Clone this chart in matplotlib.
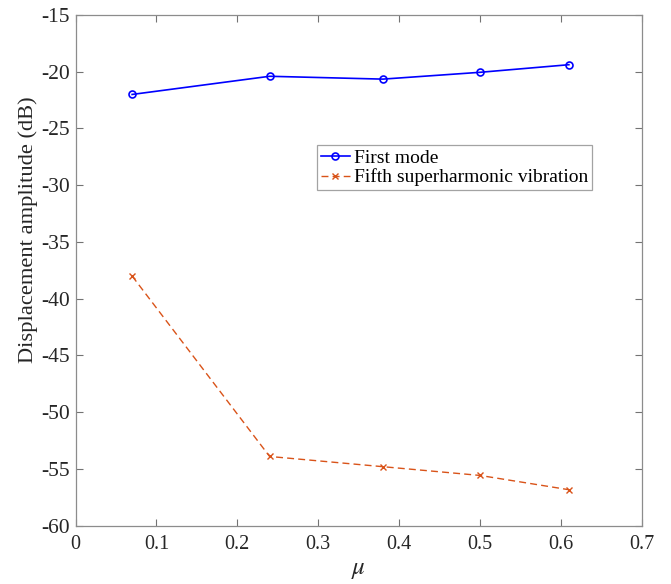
import matplotlib.pyplot as plt

# Data
mu = [0.07, 0.24, 0.38, 0.50, 0.61]
first_mode = [-22.0, -20.4, -20.65, -20.05, -19.38]
fifth_super = [-38.0, -53.9, -54.8, -55.57, -56.83]

plt.rcParams['font.family'] = ['Liberation Serif', 'DejaVu Serif']
plt.rcParams['mathtext.fontset'] = 'stix'

W, H = 671, 584
fig = plt.figure(figsize=(W / 100, H / 100), dpi=100)
ax = fig.add_axes([75.5 / W, 1 - 525.7 / H, 566.2 / W, 510.7 / H])

ax.plot(mu, first_mode, color='#0000ff', marker='o', markersize=5,
        markerfacecolor='none', markeredgewidth=1.2, linewidth=1.2, label='First mode')
ax.plot(mu, fifth_super, color='#d95319', linestyle='--', dashes=(5, 3), marker='x',
        markersize=5, markeredgewidth=1.0, linewidth=1.0,
        label='Fifth superharmonic vibration')

ax.set_xlim(0, 0.7)
ax.set_ylim(-60, -15)
ax.set_xticks([0, 0.1, 0.2, 0.3, 0.4, 0.5, 0.6, 0.7])
ax.set_xticklabels(['0', '0.1', '0.2', '0.3', '0.4', '0.5', '0.6', '0.7'])
ax.set_yticks(range(-60, -14, 5))
ax.set_yticklabels([str(v) for v in range(-60, -14, 5)])

ax.tick_params(direction='in', length=5, width=0.8, color='0.45',
               top=True, right=True, labelsize=14.5, labelcolor='#262626')
ax.tick_params(axis='x', pad=7)
ax.tick_params(axis='y', pad=4, labelsize=15.5)
for s in ax.spines.values():
    s.set_color('0.55')
    s.set_linewidth(0.9)

ax.set_xlabel(r'$\mu$', fontsize=18, color='#262626', va='center')
ax.xaxis.set_label_coords(0.5, -(570 - 525.7) / 510.7, transform=ax.transAxes)
ax.set_ylabel('Displacement amplitude (dB)', fontsize=16.2, color='#262626', va='center')
ax.yaxis.set_label_coords(-(75.5 - 28) / 566.2, (525.7 - 230) / 510.7, transform=ax.transAxes)

leg = ax.legend(loc='upper left', bbox_to_anchor=((316.7 - 75.5) / 566.2, 1 - (145 - 15) / 510.7),
                fontsize=14, frameon=True, fancybox=False, borderaxespad=0,
                handlelength=1.5, handletextpad=0.2, borderpad=0.2, labelspacing=0.1)
leg.get_frame().set_edgecolor('0.55')
leg.get_frame().set_linewidth(0.9)

fig.savefig('out.png', dpi=100)
